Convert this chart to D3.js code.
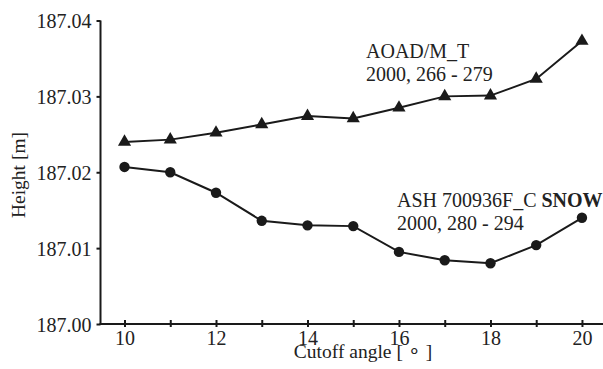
<!DOCTYPE html>
<html>
<head>
<meta charset="utf-8">
<script src="https://cdn.jsdelivr.net/npm/d3@7/dist/d3.min.js"></script>
<style>
  html, body { margin: 0; padding: 0; background: #fff; }
  svg { display: block; }
  text { font-family: "Liberation Serif", "Times New Roman", serif; fill: #222; }
</style>
</head>
<body>
<svg id="chart" width="603" height="369"></svg>
<script>
// Cutoff angle (degrees) on the x axis
const angles = [10, 11, 12, 13, 14, 15, 16, 17, 18, 19, 20];
// Estimated station height per cutoff angle, two antenna/radome set-ups
const aoadHeights = [187.0240, 187.0243, 187.0252, 187.0263, 187.0274, 187.0271, 187.0285, 187.0300, 187.0301, 187.0323, 187.0373];
const ashHeights  = [187.0207, 187.0200, 187.0173, 187.0136, 187.0130, 187.0129, 187.0095, 187.0084, 187.0080, 187.0104, 187.0140];
// Axis tick values
const yTicks = [187.00, 187.01, 187.02, 187.03, 187.04];
const xTickLabels = [10, 12, 14, 16, 18, 20];

const svg = d3.select("#chart");
const ink = "#1a1a1a";

const x = d3.scaleLinear().domain([9.475, 20.46]).range([100.5, 603]);
const y = d3.scaleLinear().domain([187.00, 187.04]).range([324, 20.5]);

// Y axis
const yAxis = d3.axisLeft(y).tickValues(yTicks).tickSize(4).tickPadding(5)
  .tickFormat(d3.format(".2f"));
const gy = svg.append("g").attr("transform", "translate(100.5,0)").call(yAxis)
  .attr("font-family", null).attr("font-size", null);
gy.select(".domain").attr("stroke", ink).attr("stroke-width", 2).attr("d", `M0,${y(187.04)}V${y(187.00) + 1}`);
gy.selectAll(".tick line").attr("stroke", ink).attr("stroke-width", 2);
gy.selectAll(".tick text").attr("font-size", 20).attr("dy", "0.35em").attr("fill", "#222");

// X axis: a tick at every degree, labels on even values only
const xAxis = d3.axisBottom(x).tickValues(angles).tickSize(3).tickPadding(4)
  .tickFormat(d => xTickLabels.includes(d) ? d : "");
const gx = svg.append("g").attr("transform", "translate(0,324)").call(xAxis)
  .attr("font-family", null).attr("font-size", null);
gx.select(".domain").attr("stroke", ink).attr("stroke-width", 2).attr("d", `M99.5,0H603`);
gx.selectAll(".tick line").attr("stroke", ink).attr("stroke-width", 2).attr("y1", -4);
gx.selectAll(".tick text").attr("font-size", 20).attr("dy", "0.71em").attr("fill", "#222");

// Axis titles
svg.append("text").attr("x", 363).attr("y", 358).attr("text-anchor", "middle")
  .attr("font-size", 19.5).text("Cutoff angle [ \u2218 ]");
svg.append("text").attr("transform", "translate(25,175) rotate(-90)")
  .attr("text-anchor", "middle").attr("font-size", 19.5).text("Height [m]");

const line = d3.line().x((d, i) => x(angles[i])).y(d => y(d));

// AOAD/M_T series: triangles
svg.append("path").datum(aoadHeights).attr("d", line)
  .attr("fill", "none").attr("stroke", ink).attr("stroke-width", 2);
svg.append("g").selectAll("path").data(aoadHeights).join("path")
  .attr("transform", (d, i) => `translate(${x(angles[i])},${y(d)})`)
  .attr("d", d3.symbol(d3.symbolTriangle, 75))
  .attr("fill", ink);

// ASH 700936F_C SNOW series: circles
svg.append("path").datum(ashHeights).attr("d", line)
  .attr("fill", "none").attr("stroke", ink).attr("stroke-width", 2);
svg.append("g").selectAll("circle").data(ashHeights).join("circle")
  .attr("cx", (d, i) => x(angles[i])).attr("cy", d => y(d)).attr("r", 5.2)
  .attr("fill", ink);

// Series annotations
const a1 = svg.append("text").attr("font-size", 20);
a1.append("tspan").attr("x", 366).attr("y", 58).text("AOAD/M_T");
a1.append("tspan").attr("x", 366).attr("y", 81).text("2000, 266 - 279");

const a2 = svg.append("text").attr("font-size", 20);
a2.append("tspan").attr("x", 397).attr("y", 207).text("ASH 700936F_C  ");
a2.append("tspan").attr("font-weight", "bold").text("SNOW");
a2.append("tspan").attr("x", 397).attr("y", 230).text("2000, 280 - 294");
</script>
</body>
</html>
